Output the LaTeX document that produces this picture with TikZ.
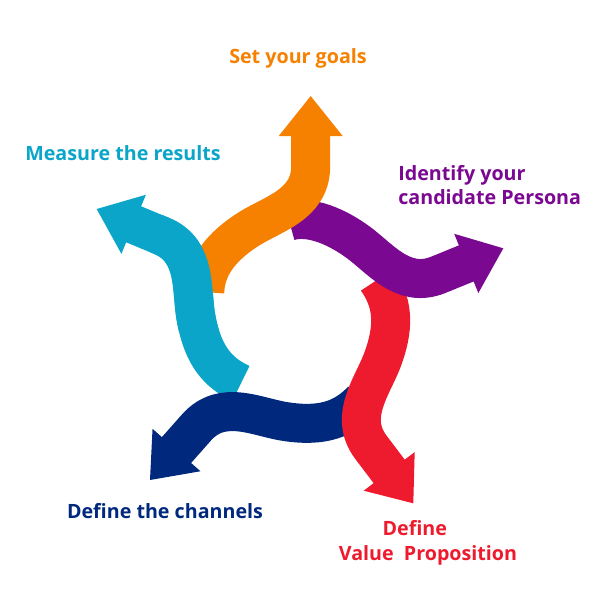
\documentclass[tikz,border=0pt]{standalone}
\usepackage{fontspec}
\setmainfont{Open Sans}
\usetikzlibrary{positioning}

\definecolor{goalorange}{RGB}{246,128,0}
\definecolor{personapurple}{RGB}{122,8,145}
\definecolor{valuered}{RGB}{238,27,46}
\definecolor{channelnavy}{RGB}{0,41,125}
\definecolor{resultcyan}{RGB}{10,165,200}

\tikzset{
  steptext/.style={font=\bfseries\fontsize{11.2}{14}\selectfont, inner sep=0pt},
  shaft/.style={line width=0.78cm},
}

% one curved arrow, tip at the origin, pointing up
\newcommand{\curvyarrow}[2]{
  \fill[#1] (-32,40) -- (0,0) -- (32,40) -- cycle;
  \draw[#1, shaft] (0,38) -- (0,70) .. controls (0,110) and (-40,118) .. (-65,135)
        .. controls (-95,155) and (-105,175) .. (-106,#2);
}

\begin{document}
\begin{tikzpicture}[x=0.02cm, y=-0.02cm]
  \useasboundingbox (0,0) rectangle (600,600);

  % arrows
  \foreach \tipx/\tipy/\turn/\col/\tail in {96.7/209/67.5/resultcyan/200, 150/480/138.5/channelnavy/200,
      413.3/503.3/-142.9/valuered/200, 503.3/248.3/-67.8/personapurple/188, 310.7/96/0/goalorange/196} {
    \begin{scope}[shift={(\tipx,\tipy)}, rotate=\turn]
      \curvyarrow{\col}{\tail}
    \end{scope}
  }

  % cyan again over the orange tail
  \begin{scope}
    \clip (150,215) rectangle (260,330);
    \begin{scope}[shift={(96.7,209)}, rotate=67.5]
      \curvyarrow{resultcyan}{200}
    \end{scope}
  \end{scope}

  % labels
  \node[steptext, text=goalorange] (goals) at (298,58) {Set your goals};
  \node[steptext, text=resultcyan] (results) at (123,153) {Measure the results};
  \node[steptext, text=personapurple, align=left, anchor=west] (persona) at (398,185)
       {Identify your\\candidate Persona};
  \node[steptext, text=channelnavy] (channels) at (165,511) {Define the channels};
  \node[steptext, text=valuered, align=center] (value) at (428,543)
       {Define\hspace*{15pt}\\Value\ \ Proposition};
\end{tikzpicture}
\end{document}
